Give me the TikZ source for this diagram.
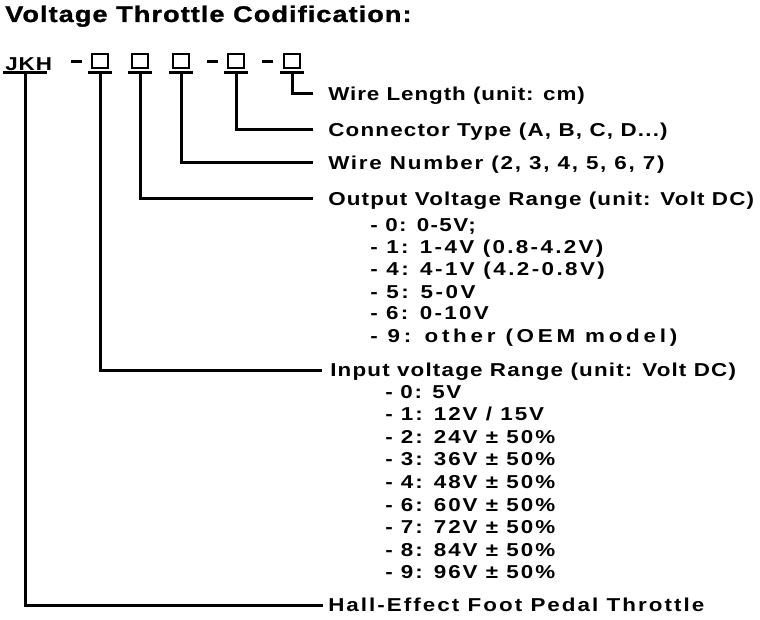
\documentclass[tikz,border=0pt]{standalone}
\usepackage{fontspec}
\newcommand\lsf[1]{\fontspec[LetterSpace=#1,FakeStretch=1.2]{Liberation Sans}\bfseries\fontsize{14}{16}\selectfont}
\newfontfamily\ttlfont[LetterSpace=4.5,FakeStretch=1.2,FakeBold=1.2]{Liberation Sans}
\begin{document}
\begin{tikzpicture}[x=0.75pt,y=-0.75pt,
  conn/.style={line width=2.25pt},
  lbl/.style={anchor=west, inner sep=0pt, text height=10pt, text depth=0pt, font=\lsf{#1}},
  lbl/.default=5,
  sub/.style={anchor=base west, inner sep=0pt, font=\lsf{#1}},
  sub/.default=5,
  titlefont/.style={anchor=base west, inner sep=0pt,
    font=\ttlfont\bfseries\fontsize{17}{20}\selectfont},
  codebox/.style={draw, line width=1.5pt, minimum width=12pt, minimum height=10pt, inner sep=0pt}
]
\useasboundingbox[fill=white] (0,0) rectangle (760,620);

% title
\node[titlefont] (title) at (5,22) {Voltage Throttle Codification:};

% code
\node[sub] (jkh) at (5,71) {JKH};
\node[codebox] (box1) at (100,61) {};
\node[codebox] (box2) at (140,61) {};
\node[codebox] (box3) at (181,61) {};
\node[codebox] (box4) at (236,61) {};
\node[codebox] (box5) at (292,61) {};
\draw[conn] (71,62) -- (82,62);
\draw[conn] (207,62) -- (218,62);
\draw[conn] (262,62) -- (273,62);

\coordinate (u0) at (25,73);
\coordinate (u1) at (100,73);
\coordinate (u2) at (140,73);
\coordinate (u3) at (181,73);
\coordinate (u4) at (236,73);
\coordinate (u5) at (292,73);
\draw[conn] (3,73) -- (47,73);
\foreach \u in {u1,u2,u3,u4,u5}{\draw[conn] (\u) ++(-12,0) -- ++(24,0);}

% labels
\node[lbl] (wl) at (328,94) {Wire Length (unit: cm)};
\node[lbl=6.4] (ct) at (328,130) {Connector Type (A, B, C, D...)};
\node[lbl=9.5] (wn) at (328,163) {Wire Number (2, 3, 4, 5, 6, 7)};
\node[lbl=6.2] (ov) at (328,199) {Output Voltage Range (unit: Volt DC)};
\node[lbl=6.3] (iv) at (330,370) {Input voltage Range (unit: Volt DC)};
\node[lbl=10.9] (he) at (328,605) {Hall-Effect Foot Pedal Throttle};

% sub items
\node[sub=7.4] (o0) at (370,232) {- 0: 0-5V;};
\node[sub=12.5] (o1) at (370,254) {- 1: 1-4V (0.8-4.2V)};
\node[sub=13] (o4) at (370,276) {- 4: 4-1V (4.2-0.8V)};
\node[sub=13.6] (o5) at (370,298) {- 5: 5-0V};
\node[sub=12.3] (o6) at (370,320) {- 6: 0-10V};
\node[sub=20] (o9) at (370,342) {- 9: other (OEM model)};

\node[sub=8.3] (i0) at (385,398) {- 0: 5V};
\node[sub=10.7] (i1) at (385,420.6) {- 1: 12V / 15V};
\node[sub=10.7] (i2) at (385,443.2) {- 2: 24V ± 50\%};
\node[sub=10.7] (i3) at (385,465.8) {- 3: 36V ± 50\%};
\node[sub=10.7] (i4) at (385,488.4) {- 4: 48V ± 50\%};
\node[sub=10.7] (i6) at (385,511) {- 6: 60V ± 50\%};
\node[sub=10.7] (i7) at (385,533.6) {- 7: 72V ± 50\%};
\node[sub=10.7] (i8) at (385,556.2) {- 8: 84V ± 50\%};
\node[sub=10.7] (i9) at (385,578.8) {- 9: 96V ± 50\%};

% connectors
\draw[conn] (u5) |- ([xshift=-11.25pt]wl.west);
\draw[conn] (u4) |- ([xshift=-11.25pt]ct.west);
\draw[conn] (u3) |- ([xshift=-11.25pt]wn.west);
\draw[conn] (u2) |- ([xshift=-11.25pt]ov.west);
\draw[conn] (u1) |- ([xshift=-6pt]iv.west);
\draw[conn] (u0) |- ([xshift=-3.75pt]he.west);
\end{tikzpicture}
\end{document}
